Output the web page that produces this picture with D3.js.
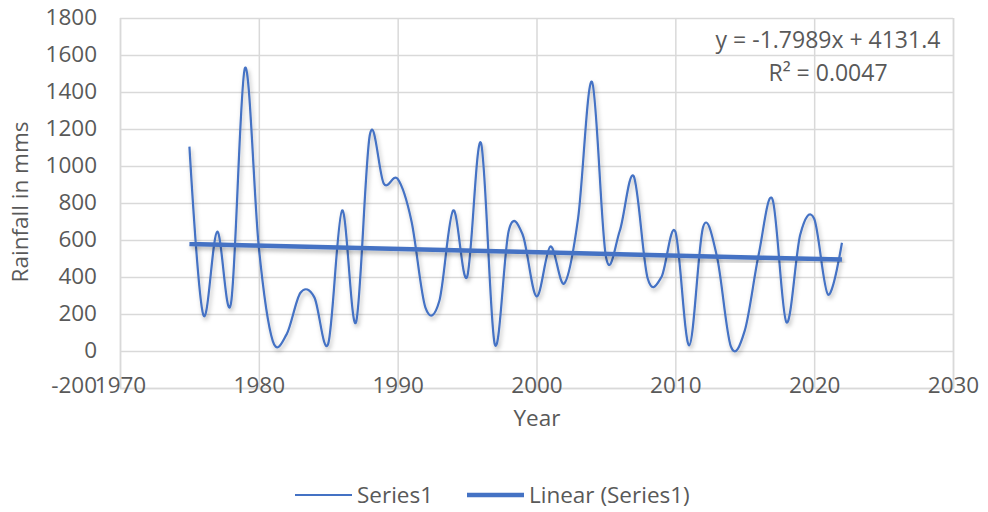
<!DOCTYPE html>
<html>
<head>
<meta charset="utf-8">
<script src="https://cdn.jsdelivr.net/npm/d3@7"></script>
<style>
  body { margin: 0; background: #fff; }
  svg text { font-family: "Open Sans", "Noto Sans", sans-serif; fill: #595959; }
</style>
</head>
<body>
<svg id="chart"></svg>
<script>
// rainfall per year
var years = [1975, 1976, 1977, 1978, 1979, 1980, 1981, 1982, 1983, 1984,
             1985, 1986, 1987, 1988, 1989, 1990, 1991, 1992, 1993, 1994,
             1995, 1996, 1997, 1998, 1999, 2000, 2001, 2002, 2003, 2004,
             2005, 2006, 2007, 2008, 2009, 2010, 2011, 2012, 2013, 2014,
             2015, 2016, 2017, 2018, 2019, 2020, 2021, 2022];
var rainfall = [1105, 195, 645, 260, 1530, 560, 55, 90, 315, 290,
                40, 760, 155, 1170, 905, 930, 700, 235, 270, 760,
                400, 1125, 35, 650, 630, 295, 565, 365, 720, 1455,
                510, 650, 945, 395, 400, 645, 30, 670, 510, 25,
                110, 520, 820, 155, 630, 715, 305, 585];

var xTicks = [1970, 1980, 1990, 2000, 2010, 2020, 2030];
var yTicks = [-200, 0, 200, 400, 600, 800, 1000, 1200, 1400, 1600, 1800];

var trendSlope = -1.7989;
var trendIntercept = 4131.4;
var trendLabel = ["y = -1.7989x + 4131.4", "R\u00b2 = 0.0047"];

var seriesNames = ["Series1", "Linear (Series1)"];

function DrawChart()
{
  var width = 988;
  var height = 512;
  var margin = {"left": 120, "right": 35, "top": 18, "bottom": 124};
  var blue = "#4472C4";
  var grid = "#d9d9d9";

  var svg = d3.select("#chart").attr("width", width).attr("height", height);

  var defs = svg.append("defs");
  var shadow = defs.append("filter").attr("id", "shadow")
                   .attr("x", "-10%").attr("y", "-10%")
                   .attr("width", "120%").attr("height", "130%");
  shadow.append("feDropShadow")
        .attr("dx", 1.5).attr("dy", 3).attr("stdDeviation", 2.2)
        .attr("flood-color", "#000").attr("flood-opacity", 0.28);

  var x = d3.scaleLinear()
            .domain([xTicks[0], xTicks[xTicks.length - 1]])
            .range([margin.left, width - margin.right]);
  var y = d3.scaleLinear()
            .domain([yTicks[0], yTicks[yTicks.length - 1]])
            .range([height - margin.bottom, margin.top]);

  // horizontal gridlines
  var yGrid = svg.append("g")
                 .attr("transform", "translate(" + margin.left + ",0)")
                 .call(d3.axisLeft(y).tickValues(yTicks)
                         .tickSize(-(width - margin.left - margin.right))
                         .tickFormat(""));
  yGrid.select(".domain").remove();
  yGrid.selectAll("line").attr("stroke", grid).attr("stroke-width", 1.5);

  // vertical gridlines
  var xGrid = svg.append("g")
                 .attr("transform", "translate(0," + (height - margin.bottom) + ")")
                 .call(d3.axisBottom(x).tickValues(xTicks)
                         .tickSize(-(height - margin.top - margin.bottom))
                         .tickFormat(""));
  xGrid.select(".domain").attr("stroke", grid).attr("stroke-width", 1.5);
  xGrid.selectAll("line").attr("stroke", grid).attr("stroke-width", 1.5);

  // y tick labels (plain hyphen for the minus, like the original)
  var yAxis = svg.append("g")
                 .attr("transform", "translate(" + (margin.left - 23) + ",0)")
                 .call(d3.axisLeft(y).tickValues(yTicks).tickSize(0).tickPadding(0)
                         .tickFormat(function(d) { return String(d); }));
  yAxis.select(".domain").remove();
  yAxis.selectAll("text").style("font-size", "22.5px").attr("fill", "#595959")
       .attr("dy", "0.3em");
  yAxis.selectAll(".tick").filter(function(d) { return d == yTicks[0]; })
       .select("text").attr("dy", "0.2em");

  // x tick labels, sitting on the bottom line
  var xAxis = svg.append("g")
                 .attr("transform", "translate(0," + (height - margin.bottom - 3) + ")")
                 .call(d3.axisBottom(x).tickValues(xTicks).tickSize(0).tickPadding(0)
                         .tickFormat(function(d) { return String(d); }));
  xAxis.select(".domain").remove();
  xAxis.selectAll("text").style("font-size", "22.5px").attr("fill", "#595959")
       .attr("y", 0).attr("dy", "0.36em");

  // axis titles
  svg.append("text")
     .attr("transform", "translate(20," + 202 + ") rotate(-90)")
     .attr("text-anchor", "middle").attr("dy", "0.36em")
     .style("font-size", "22.5px")
     .text("Rainfall in mms");
  svg.append("text")
     .attr("x", 537).attr("y", 418).attr("dy", "0.36em")
     .attr("text-anchor", "middle")
     .style("font-size", "22.5px")
     .text("Year");

  // the series, smoothed
  var line = d3.line()
               .x(function(d) { return x(d[0]); })
               .y(function(d) { return y(d[1]); })
               .curve(d3.curveCardinal.tension(0));
  var points = years.map(function(yr, i) { return [yr, rainfall[i]]; });

  svg.append("path")
     .datum(points)
     .attr("d", line)
     .attr("fill", "none")
     .attr("stroke", blue)
     .attr("stroke-width", 2.2)
     .attr("filter", "url(#shadow)");

  // linear trend
  var trend = [years[0], years[years.length - 1]].map(function(yr) {
    return [yr, trendSlope * yr + trendIntercept];
  });
  svg.append("path")
     .datum(trend)
     .attr("d", d3.line().x(function(d) { return x(d[0]); }).y(function(d) { return y(d[1]); }))
     .attr("fill", "none")
     .attr("stroke", blue)
     .attr("stroke-width", 4.5)
     .attr("filter", "url(#shadow)");

  // equation label
  svg.selectAll(".eq").data(trendLabel).enter().append("text")
     .attr("class", "eq")
     .attr("x", 828)
     .attr("y", function(d, i) { return 40 + i * 33; })
     .attr("dy", "0.36em")
     .attr("text-anchor", "middle")
     .style("font-size", "23px")
     .text(function(d) { return d; });

  // legend
  var legend = svg.append("g").attr("transform", "translate(0,495)");
  var legendX = [295, 467];
  var legendW = [2.2, 4.5];
  seriesNames.forEach(function(name, i) {
    legend.append("line")
          .attr("x1", legendX[i]).attr("x2", legendX[i] + 57)
          .attr("y1", 0).attr("y2", 0)
          .attr("stroke", blue).attr("stroke-width", legendW[i]);
    legend.append("text")
          .attr("x", legendX[i] + 62).attr("y", 0).attr("dy", "0.36em")
          .style("font-size", "22.5px")
          .text(name);
  });
}

DrawChart();
</script>
</body>
</html>
